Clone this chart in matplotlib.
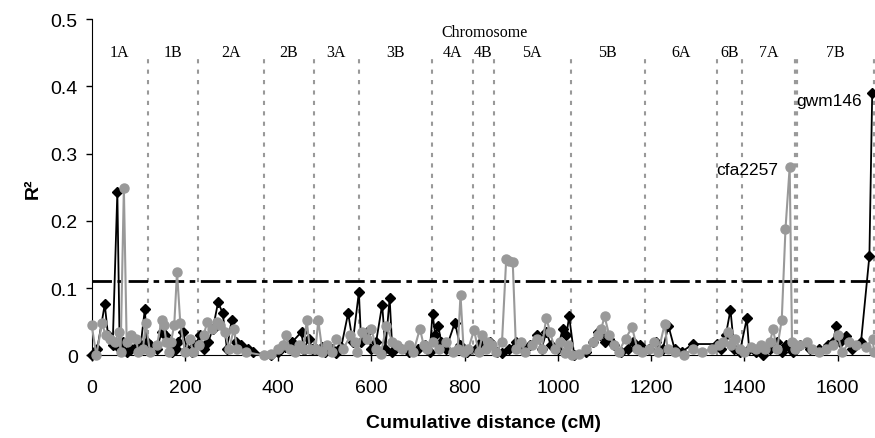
#!/usr/bin/env python3
"""Genome-wide R2 scan along cumulative map distance (two series)."""

import matplotlib
matplotlib.use("Agg")
import matplotlib.pyplot as plt

plt.rcParams["font.family"] = ["Liberation Sans", "DejaVu Sans"]

# chromosome boundaries (cM) and labels
chrom_names = ["1A", "1B", "2A", "2B", "3A", "3B", "4A", "4B",
               "5A", "5B", "6A", "6B", "7A", "7B"]
chrom_bounds = [0, 120, 228, 369, 476, 573, 729, 817, 862,
                1027, 1187, 1342, 1395, 1511, 1679]

threshold = 0.11

# series 1 (black diamonds)
black_pos = [0, 12, 28, 35, 45, 55, 60, 68, 75, 85, 95, 105, 114, 118,
             125, 140, 150, 158, 165, 172, 180, 185, 195, 205, 215, 222,
             232, 240, 250, 260, 271, 281, 290, 300, 310, 320, 335, 345,
             385, 400, 415, 430, 450, 455, 465, 472,
             480, 493, 500, 515, 525, 535, 550, 560, 573,
             578, 590, 600, 610, 623, 630, 639, 645, 660, 680, 700, 715, 725,
             731, 737, 743, 750, 760, 779, 790, 805,
             825, 835, 845, 855,
             870, 880, 895, 910, 925, 940, 955, 965, 975, 985, 1000, 1010, 1018, 1024,
             1035, 1060, 1075, 1085, 1090, 1100, 1110, 1120, 1135, 1150, 1160, 1175,
             1195, 1210, 1225, 1237, 1250, 1265, 1289, 1341,
             1350, 1360, 1370, 1378, 1390,
             1405, 1410, 1425, 1440, 1455, 1470, 1480, 1490, 1500, 1505,
             1520, 1540, 1560, 1580, 1590, 1597, 1605, 1618, 1630, 1650, 1668, 1674]
black_r2 = [0.0, 0.01, 0.076, 0.03, 0.015, 0.243, 0.01, 0.02, 0.005, 0.01, 0.012, 0.015, 0.069, 0.02,
            0.015, 0.01, 0.035, 0.03, 0.02, 0.005, 0.01, 0.02, 0.035, 0.01, 0.005, 0.015,
            0.03, 0.01, 0.02, 0.04, 0.079, 0.063, 0.01, 0.052, 0.02, 0.015, 0.01, 0.005,
            0.0, 0.005, 0.012, 0.02, 0.035, 0.008, 0.025, 0.01,
            0.01, 0.013, 0.005, 0.01, 0.003, 0.012, 0.063, 0.02, 0.094,
            0.02, 0.035, 0.01, 0.02, 0.0755, 0.01, 0.0855, 0.005, 0.012, 0.005, 0.01, 0.015, 0.005,
            0.062, 0.03, 0.044, 0.02, 0.01, 0.049, 0.015, 0.005,
            0.01, 0.02, 0.015, 0.02,
            0.005, 0.003, 0.01, 0.02, 0.01, 0.015, 0.03, 0.01, 0.035, 0.015, 0.01, 0.04, 0.03, 0.058,
            0.0, 0.005, 0.02, 0.035, 0.03, 0.02, 0.025, 0.015, 0.005, 0.01, 0.02, 0.015,
            0.01, 0.02, 0.01, 0.044, 0.01, 0.005, 0.017, 0.017,
            0.01, 0.03, 0.068, 0.01, 0.005,
            0.055, 0.01, 0.005, 0.0, 0.01, 0.02, 0.005, 0.015, 0.01, 0.005,
            0.015, 0.01, 0.01, 0.015, 0.02, 0.044, 0.02, 0.029, 0.01, 0.02, 0.148, 0.39]

# series 2 (grey circles)
grey_pos = [0, 10, 22, 30, 40, 50, 58, 62, 69, 75, 85, 95, 100, 110, 116,
            125, 140, 150, 155, 160, 165, 170, 177, 183, 190, 200, 210, 218,
            230, 240, 248, 258, 268, 276, 285, 295, 305, 312, 330,
            370, 385, 400, 410, 416, 425, 435, 445, 455, 461, 468,
            480, 486, 495, 505, 515, 525, 540, 555, 565, 570,
            580, 590, 600, 610, 620, 632, 645, 655, 665, 680, 690, 704, 712, 720,
            732, 745, 760, 775, 785, 791, 798, 808,
            820, 830, 838, 845, 850, 858,
            868, 880, 889, 896, 903, 910, 920, 930, 945, 955, 965, 975, 983, 993, 1005, 1015, 1022,
            1030, 1045, 1060, 1075, 1085, 1093, 1100, 1110, 1120, 1130, 1145, 1159, 1170, 1180,
            1195, 1205, 1215, 1229, 1235, 1250, 1270, 1290, 1310, 1330,
            1345, 1355, 1365, 1372, 1380, 1390,
            1400, 1415, 1425, 1435, 1445, 1455, 1461, 1470, 1480, 1488, 1497, 1502, 1508,
            1520, 1535, 1545, 1560, 1575, 1590, 1600, 1610, 1625, 1640, 1660, 1675, 1678]
grey_r2 = [0.045, 0.0, 0.048, 0.03, 0.025, 0.02, 0.035, 0.005, 0.249, 0.02, 0.03, 0.025, 0.005, 0.01, 0.048,
           0.005, 0.015, 0.053, 0.045, 0.02, 0.005, 0.02, 0.045, 0.124, 0.048, 0.005, 0.025, 0.005,
           0.015, 0.03, 0.05, 0.04, 0.05, 0.045, 0.035, 0.01, 0.04, 0.01, 0.005,
           0.0, 0.002, 0.01, 0.015, 0.03, 0.01, 0.005, 0.015, 0.01, 0.053, 0.01,
           0.01, 0.052, 0.005, 0.015, 0.005, 0.025, 0.01, 0.03, 0.02, 0.005,
           0.035, 0.025, 0.04, 0.01, 0.002, 0.044, 0.02, 0.015, 0.01, 0.015, 0.005, 0.04, 0.015, 0.01,
           0.02, 0.01, 0.02, 0.005, 0.01, 0.09, 0.005, 0.01,
           0.038, 0.005, 0.03, 0.01, 0.02, 0.015,
           0.005, 0.02, 0.143, 0.141, 0.139, 0.01, 0.02, 0.005, 0.015, 0.025, 0.01, 0.056, 0.035, 0.01, 0.02, 0.003, 0.015,
           0.0, 0.002, 0.01, 0.02, 0.03, 0.04, 0.058, 0.03, 0.015, 0.005, 0.025, 0.042, 0.01, 0.005,
           0.01, 0.02, 0.005, 0.047, 0.01, 0.005, 0.0, 0.01, 0.005, 0.01,
           0.015, 0.02, 0.035, 0.015, 0.025, 0.01,
           0.005, 0.012, 0.01, 0.015, 0.01, 0.02, 0.039, 0.01, 0.053, 0.188, 0.28, 0.02, 0.01,
           0.015, 0.02, 0.01, 0.005, 0.01, 0.015, 0.03, 0.005, 0.02, 0.015, 0.012, 0.025, 0.005]

GREY = "#999999"

fig = plt.figure(figsize=(8.75, 4.39), dpi=100)
ax = fig.add_axes([0.1048, 0.188, 0.8952, 0.766])

# chromosome separators (last two drawn heavier)
for i, b in enumerate(chrom_bounds[1:]):
    thick = i >= len(chrom_bounds) - 3
    ax.plot([b, b], [0, 0.445], color=GREY,
            linestyle=(0, (1, 1.5)) if thick else (0, (2, 3)),
            linewidth=3 if thick else 1.5, zorder=1)

# chromosome labels
for name, lo, hi in zip(chrom_names, chrom_bounds[:-1], chrom_bounds[1:]):
    ax.text((lo + hi) / 2, 0.451, name, ha="center", va="center",
            family="Liberation Serif", fontsize=11.5)
ax.text(843, 0.481, "Chromosome", ha="center", va="center",
        family="Liberation Serif", fontsize=11.5)

# significance threshold
ax.plot([0, chrom_bounds[-1]], [threshold, threshold], color="black",
        linestyle=(0, (7, 2, 2, 2)), linewidth=2, zorder=2)

ax.plot(black_pos, black_r2, color="black", marker="D", markersize=5,
        linewidth=1.3, zorder=3, clip_on=False)
ax.plot(grey_pos, grey_r2, color=GREY, marker="o", markersize=6.5,
        linewidth=1.5, zorder=4, clip_on=False)

ax.text(1652, 0.379, "gwm146", ha="right", va="center", fontsize=12.5)
ax.text(1473, 0.277, "cfa2257", ha="right", va="center", fontsize=12.5)

ax.set_xlim(0, 1680)
ax.set_ylim(0, 0.5)
ax.set_xticks(range(0, 1601, 200))
ax.set_yticks([0, 0.1, 0.2, 0.3, 0.4, 0.5])
ax.set_yticklabels(["0", "0.1", "0.2", "0.3", "0.4", "0.5"])
ax.tick_params(labelsize=14, length=4, width=1, pad=6)
ax.tick_params(axis="x", pad=13)
ax.spines["top"].set_visible(False)
ax.spines["right"].set_visible(False)

ax.set_xlabel("Cumulative distance (cM)", fontsize=14, fontweight="bold", labelpad=13)
ax.set_ylabel("R²", fontsize=14, fontweight="bold", labelpad=6)

fig.savefig("out.png", dpi=100)
